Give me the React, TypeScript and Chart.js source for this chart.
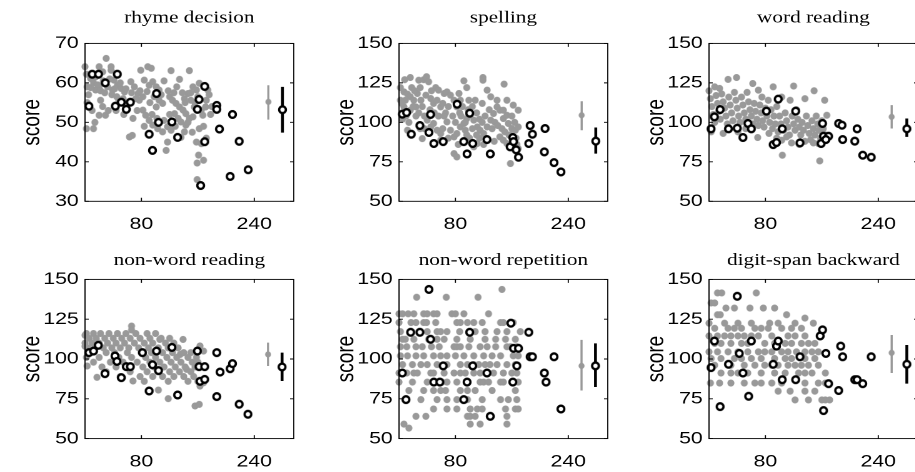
import React, { useEffect, useRef } from "react";
import { Chart, registerables } from "chart.js";

Chart.register(...registerables);

// ---------------- data ----------------
const xTicks = [80, 240];
const rhymeTicks = [30, 40, 50, 60, 70];
const scoreTicks = [50, 75, 100, 125, 150];

type P = [number, number];

const rhymeControls: P[] = [
  [0,64.1],[2,62.2],[8,61.1],[3,59],[12,48.4],[2,48.4],[20,64.1],[25,62.8],[30,66.2],[37,64.1],[20,59.2],[15,58.2],[22,55.6],[20,51.8],[29,51.8],[37,63.2],[41,60.7],[46,59.4],[51,58.6],[56,57.7],[39,58.2],[48,55.6],[58,53.9],[65,60.3],[70,59],[75,57.3],[77,55.6],[63,46.3],[67,46.7],[79,63.2],[89,64.1],[94,63.7],[84,60.7],[91,59.4],[96,60.3],[101,59],[105,58.2],[82,53.1],[86,51.8],[91,50.5],[96,49.3],[101,53.9],[105,55.6],[110,54.8],[103,48.4],[115,42.9],[117,45],[122,63.1],[134,60.9],[120,56.5],[124,55.6],[129,54.8],[134,53.9],[139,53.1],[143,52.2],[127,52.2],[132,51],[136,50.1],[117,48.9],[122,48],[110,47.6],[148,63.1],[153,59],[146,57.3],[150,55.6],[155,53.9],[141,56],[143,49.3],[148,51],[153,51.4],[158,58.2],[162,59.9],[165,53.1],[167,51.8],[171,53.9],[162,48.4],[165,44.6],[161,41.7],[159,39.7],[168,40.4],[159,35.5],[136,46.2],[141,47.6],[172,55.6],[174,58.2],
  [5,57],[8,58.8],[12,60],[15,61.5],[18,59.5],[22,58],[26,60.5],[28,57.5],[32,59],[35,61],[38,57],[42,58.5],[45,56.5],[50,60],[54,56],[58,58.5],[62,55],[66,57.5],[72,56],[78,58],[82,56.5],[88,57.8],[92,55],[98,56.5],[108,57],[112,60.5],[118,58],[126,57.5],[130,59],[138,57.5],[142,55],[150,57.5],[156,55],[160,56.5],[3,55],[10,53],[14,50],[25,54],[33,53],[44,53],[55,52],[68,51],[74,53],[84,49],[95,52],[102,51],[112,50.5],[120,52],[128,49],[146,50],[152,47.5],[158,45],[168,49],[172,46],[178,52],[180,54],[176,57]
];
const rhymePatients: P[] = [
  [5.5,54.1],[10.2,62.2],[19.2,62.2],[28.7,60],[43,54.1],[45.8,62.2],[51.5,55.1],[58.6,53.3],[64.3,55.1],[90.9,47],[95.7,42.9],[101.4,57.3],[104.2,50],[123.2,50.1],[131.3,46.2],[159.3,53.3],[161.7,55.8],[169.7,59.1],[169.7,45.1],[164,34],[186.8,54.3],[186.8,53.3],[190.6,48.3],[205.8,36.3],[209.1,52],[218.6,45.2],[231.4,38]
];
// [x, mean, low, high]
const rhymeControlSummary = [260, 55.2, 50.7, 59.4];
const rhymePatientSummary = [280, 53.2, 47.4, 59];

const spellingControls: P[] = [
  [16,128.4],[28,126.7],[35,127],[39,128.9],[42,125.7],[52,122],[56,120.4],[119,128.4],[119,126.7],[149,124.2],[92,126.3],[96,122],
  [2,122],[7,119.3],[12,117.9],[16,116.2],[2,114],[9,114],[21,114],[26,118.3],[7,109.8],[16,107.7],[24,109.8],[31,114],[38,117.2],[45,115.1],[49,112],[54,114],[59,109.8],[64,118.3],[68,119.3],[73,117.2],[78,114],[82,109.8],
  [40,101.4],[45,97.1],[49,99.3],[54,95],[59,92.9],[33,89.7],[68,100.3],[73,95],[78,90.8],[82,92.9],[87,97.1],[92,99.3],[96,102.4],[101,104.5],[106,101.4],[111,97.1],[115,95],[120,92.9],[125,97.1],[130,101.4],[134,105.6],[139,109.8],[143,107.7],[148,102.4],[153,104.5],[155,99.3],[160,96.1],[165,95],[169,97.1],[169,107.7],[162,110.9],[143,90.8],[148,88.7],[153,86.6],[158,73.9],[169,83.4],[78,80.2],[82,78.1],[106,84.5],[111,86.6],[59,88.7],
  [125,120.4],[130,116.2],[139,114],[118,112],[108,114],[99,114],[87,114],[85,118.3],[153,114],[148,107.7],
  [4,112],[10,104],[14,100],[20,110],[24,104],[28,106],[33,110],[36,104],[44,108],[50,106],[56,104],[62,112],[66,106],[70,110],[76,104],[80,100],[86,106],[90,110],[94,95],[98,108],[104,110],[110,106],[114,102],[118,100],[122,104],[128,108],[132,96],[136,100],[140,98],[146,96],[150,94],[156,92],[160,104],[164,100],[166,90],[167,86],[5,102],[12,95],[30,96],[36,96],[62,96],[70,90],[100,90],[114,90],[120,86],[135,88],[158,92],[64,104],[18,122],[22,120],[30,122],[8,127],[46,120],[88,104],[94,100],[104,96],[84,86],[96,92],[110,92]
];
const spellingPatients: P[] = [
  [4.7,105.2],[10.8,106.2],[17.4,92.5],[29.6,98],[42.4,93.6],[44.7,105],[49.4,86.6],[62.6,87.8],[82.4,111.5],[91.8,87.8],[96.5,80],[100.2,105.8],[104.5,86.6],[124.7,89.1],[129.4,80],[157.6,84.5],[161.4,90.4],[162.4,87.8],[166.1,82.6],[169.4,77.9],[185.9,98],[189.2,92.5],[184,86.6],[207.1,96.1],[206.1,81.3],[219.8,74.5],[229.6,68.6]
];
const spellingControlSummary = [259, 104.5, 95, 113.4];
const spellingPatientSummary = [279, 88.1, 80.2, 96.7];

const wordControls: P[] = [
  [0,120],[8,122.5],[15,121.5],[27,127.2],[39,128.4],[62,124.6],[70,120.4],[91,122.5],[120,123],[136,115],[149,120],[164,114],[167,104.5],[75,116],[84,114],[103,116],[115,114],
  [2,115],[4,110],[6,105],[8,100],[10,117],[12,112],[14,107],[16,102],[18,118],[20,113],[22,109],[24,104],[26,99],[28,116],[30,111],[32,106],[34,101],[36,119],[38,114],[40,109],[42,104],[44,100],[46,116],[48,111],[50,106],[52,102],[54,119],[56,113],[58,108],[60,104],[62,99],[64,112],[66,107],[68,102],[70,98],[72,111],[74,106],[76,101],[78,97],[80,109],[82,104],[86,100],[88,108],[90,96],[92,104],[94,99],[96,110],[98,94],[100,104],[102,99],[106,95],[108,106],[110,101],[112,97],[114,92],[118,104],[120,99],[122,95],[124,108],[126,102],[128,97],[130,92],[132,100],[134,95],[138,104],[140,98],[142,93],[144,89],[146,101],[148,96],[150,92],[152,104],[154,99],[156,95],[158,90],[160,101],[162,96],[165,92],
  [104,79.2],[157,75.6],[69,90.4],[117,87],[160,94],[155,86.6],[103,88.7],[110,90.8],[3,94],[20,93],[41,94],[52,96],[85,93],[96,90],[136,88],[128,86],[148,87]
];
const wordPatients: P[] = [
  [2.9,95.9],[7.6,103.5],[15.7,108.1],[27.6,95.9],[40,96.3],[48.1,90.4],[55.2,99.3],[60,95.9],[81.4,107.1],[91,85.9],[95.7,87.2],[98.1,114.7],[103.8,95.9],[122.9,107.1],[129,87],[161,99.3],[159,86.6],[162.4,91.2],[169.5,91.2],[165.7,89.1],[183.8,99.3],[188.6,98.2],[189.5,89.1],[206.7,88.1],[210,95.9],[218,79.2],[230,77.9]
];
const wordControlSummary = [259, 103.5, 96.1, 110.9];
const wordPatientSummary = [280.5, 95.9, 90.8, 102.4];

const nonwordControls: P[] = [
  [66,120.7],[66,118.2],[0,114.9],[0,108],[3,95.6],[17,88.5],[68,86.2],[104,80.5],[118,75.1],[156,70.5],[162,71.5],[163,83],[168,85.1],[135,102.9],[144,93.5],[106,112.3],[139,112.3],[163,108.2],[168,105],
  [2,116],[12,116],[22,116],[34,116],[46,116],[58,116],[72,116],[88,116],[100,116],
  [6,113],[16,113],[28,113],[40,113],[52,113],[64,113],[78,113],[92,113],[108,113],[120,113],
  [0,110],[10,110],[20,110],[32,110],[44,110],[56,110],[70,110],[84,110],[96,110],[114,110],[126,110],
  [4,107],[14,107],[26,107],[38,107],[50,107],[62,107],[76,107],[90,107],[104,107],[118,107],[132,107],
  [8,104],[30,104],[42,104],[60,104],[80,104],[94,104],[110,104],[124,104],[140,104],[150,104],
  [2,101],[20,101],[48,101],[66,101],[86,101],[100,101],[116,101],[130,101],[146,101],[158,101],
  [12,98],[36,98],[54,98],[74,98],[92,98],[106,98],[122,98],[136,98],[152,98],[160,98],
  [24,95],[44,95],[58,95],[82,95],[98,95],[112,95],[128,95],[142,95],[156,95],
  [30,92],[64,92],[88,92],[104,92],[120,92],[134,92],[150,92],
  [50,89],[78,89],[96,89],[110,89],[126,89],[140,89],[154,89],
  [84,86],[118,86],[146,86],[160,86]
];
const nonwordPatients: P[] = [
  [5.5,104],[12.1,105],[18.8,108.6],[28.3,90.8],[42.5,101.9],[45.3,98.5],[51.5,88.3],[58.6,95.2],[64.3,95.2],[81.4,104],[90.9,79.9],[95.7,96.4],[101.4,105],[104.2,92.7],[123.2,107.3],[131.3,77.4],[159.3,105],[161.7,95.2],[163.1,86],[169.7,95.2],[169.7,87.2],[186.8,104],[186.8,76.4],[191.5,91.8],[205.8,93.9],[209.1,97.1],[218.6,71.6],[231,65.3]
];
const nonwordControlSummary = [259.5, 102.9, 95.6, 110.3];
const nonwordPatientSummary = [279.4, 95, 86.2, 104];

const repetitionControls: P[] = [
  [25,138.8],[67,138.8],[112,138.8],[146,143.7],
  [0,128.4],[5,128.4],[13,128.4],[21,128.4],[35,128.4],[40,128.4],[49,128.4],[54,128.4],[75,128.4],[80,128.4],[92,128.4],[127,128.4],
  [0,122.9],[17,122.9],[24,122.9],[35,122.9],[39,122.9],[52,122.9],[82,122.9],[87,122.9],[97,122.9],[106,122.9],[118,122.9],[144,122.9],[148,122.9],[162,122.9],
  [2,117.2],[40,117.2],[54,117.2],[59,117.2],[68,117.2],[86,117.2],[108,117.2],[122,117.2],[139,117.2],[153,117.2],[172,117.2],
  [5,112.4],[9,112.4],[21,112.4],[42,112.4],[54,112.4],[64,112.4],[82,112.4],[101,112.4],[122,112.4],[137,112.4],[151,112.4],[165,112.4],
  [2,107.7],[11,107.7],[24,107.7],[33,107.7],[46,107.7],[57,107.7],[78,107.7],[82,107.7],[87,107.7],[99,107.7],[115,107.7],[125,107.7],[137,107.7],[153,107.7],[158,107.7],[167,107.7],
  [2,102],[12,102],[24,102],[35,102],[49,102],[59,102],[68,102],[80,102],[92,102],[106,102],[120,102],[132,102],[144,102],[162,102],[169,102],
  [5,96.5],[19,96.5],[31,96.5],[40,96.5],[54,96.5],[68,96.5],[87,96.5],[97,96.5],[106,96.5],[113,96.5],[122,96.5],[129,96.5],[139,96.5],[153,96.5],[165,96.5],
  [0,91.2],[11,91.2],[21,91.2],[26,91.2],[45,91.2],[49,91.2],[64,91.2],[78,91.2],[87,91.2],[94,91.2],[106,91.2],[115,91.2],[134,91.2],[148,91.2],[160,91.2],[167,91.2],
  [0,85.5],[19,85.5],[40,85.5],[49,85.5],[61,85.5],[68,85.5],[82,85.5],[97,85.5],[115,85.5],[120,85.5],[127,85.5],[144,85.5],[148,85.5],[169,85.5],
  [14,80.2],[35,80.2],[49,80.2],[59,80.2],[66,80.2],[87,80.2],[97,80.2],[108,80.2],[132,80.2],[165,80.2],
  [31,74.5],[54,74.5],[68,74.5],[82,74.5],[97,74.5],[118,74.5],[144,74.5],[155,74.5],[167,74.5],
  [49,68.6],[68,68.6],[82,68.6],[101,68.6],[111,68.6],[118,68.6],[151,68.6],[165,68.6],[169,68.6],
  [24,64],[38,64],[97,64],[101,64],[108,64],[153,64],
  [7,59.1],[101,59.1],[115,59.1],[153,59.1],[14,56.6]
];
const repetitionPatients: P[] = [
  [4.7,91.2],[9.9,74.5],[16.5,116.8],[29.6,116.8],[42.4,143.7],[44.7,112.4],[49.4,85.5],[57.9,85.5],[62.6,95.7],[91.8,74.5],[96.5,85.5],[100.2,116.8],[104.5,95.7],[124.7,91.2],[129.4,64],[158.6,122.5],[161.4,85.5],[162.4,106.7],[169.4,106.7],[167.1,95.7],[184,116.8],[185.9,101.4],[189.2,101.4],[206.1,91.2],[208.5,85.5],[219.8,101.4],[229.6,68.6]
];
const repetitionControlSummary = [258.8, 95.7, 80.2, 112];
const repetitionPatientSummary = [278.6, 95.7, 82.4, 109.8];

const digitControls: P[] = [
  [12,141.5],[18,141.5],[67,141.5],[3,135.2],[8,135.2],
  [24,132],[36,132],[58,132],[77,132],[93,132],[12,127.8],[16,127.8],[110,127.8],[136,125.7],
  [0,122.5],[22,122.5],[41,122.5],[60,122.5],[86,122.5],[98,122.5],[122,122.5],[148,122.5],
  [8,119.3],[27,119.3],[36,119.3],[46,119.3],[65,119.3],[74,119.3],[84,119.3],[103,119.3],[117,119.3],[131,119.3],
  [0,114.5],[12,114.5],[22,114.5],[31,114.5],[41,114.5],[50,114.5],[60,114.5],[70,114.5],[89,114.5],[112,114.5],[122,114.5],[136,114.5],
  [8,109.8],[17,109.8],[31,109.8],[46,109.8],[55,109.8],[79,109.8],[93,109.8],[108,109.8],[117,109.8],[131,109.8],[141,109.8],[150,109.8],
  [0,104.5],[12,104.5],[27,104.5],[41,104.5],[55,104.5],[70,104.5],[79,104.5],[89,104.5],[103,104.5],[112,104.5],[124,104.5],[136,104.5],[146,104.5],[155,104.5],
  [3,100.3],[17,100.3],[36,100.3],[46,100.3],[60,100.3],[74,100.3],[93,100.3],[108,100.3],[117,100.3],[136,100.3],[150,100.3],
  [8,96.1],[31,96.1],[50,96.1],[65,96.1],[79,96.1],[89,96.1],[98,96.1],[112,96.1],[122,96.1],[131,96.1],[141,96.1],[155,96.1],
  [17,91.2],[31,91.2],[41,91.2],[55,91.2],[74,91.2],[93,91.2],[108,91.2],[127,91.2],[136,91.2],[146,91.2],[165,91.2],
  [2,84.9],[15,84.9],[31,84.9],[50,84.9],[65,84.9],[74,84.9],[89,84.9],[103,84.9],[136,84.9],[155,84.9],[165,84.9],
  [98,79.8],[115,79.8],[136,79.8],[150,79.8],
  [122,74.3],[141,74.3],[160,74.3],[165,74.3],[171,74.3]
];
const digitPatients: P[] = [
  [2.9,94.6],[7.6,111.3],[15.7,70.1],[27.6,96.7],[40,139.4],[42.9,103.5],[48.1,91.2],[56.2,76.6],[60,111.3],[91,96.7],[95.7,108.1],[98.1,111.3],[103.8,87],[122.9,87],[129,101.4],[157.6,114.5],[161,118.3],[162.4,67.6],[165.7,103.5],[169.5,84.5],[183.8,80.2],[186.7,108.1],[189.5,101.4],[206.7,87],[210,87],[218,84.5],[230,101.4]
];
const digitControlSummary = [259, 103.9, 91.2, 115.1];
const digitPatientSummary = [280.5, 96.7, 84.5, 108.8];

// ---------------- layout / style ----------------
const STRETCH = 1.25;
const CW = 240;
const CH = 236;
const Y_AXIS_W = 68;
const PLOT_W = 167.6;
const X_MIN = 0;
const X_MAX = 296;
const GRAY = "#999999";
const SANS = '"Liberation Sans", Arial, sans-serif';
const SERIF = '"Liberation Serif", "Times New Roman", serif';

type PanelDef = {
  title: string;
  yMin: number;
  yMax: number;
  yTicks: number[];
  controls: P[];
  patients: P[];
  cSum: number[];
  pSum: number[];
  left: number;
  top: number;
  row: number;
};

const panels: PanelDef[] = [
  { title: "rhyme decision", yMin: 30, yMax: 70, yTicks: rhymeTicks, controls: rhymeControls, patients: rhymePatients, cSum: rhymeControlSummary, pSum: rhymePatientSummary, left: 0, top: 0, row: 0 },
  { title: "spelling", yMin: 50, yMax: 150, yTicks: scoreTicks, controls: spellingControls, patients: spellingPatients, cSum: spellingControlSummary, pSum: spellingPatientSummary, left: 313.5, top: 0, row: 0 },
  { title: "word reading", yMin: 50, yMax: 150, yTicks: scoreTicks, controls: wordControls, patients: wordPatients, cSum: wordControlSummary, pSum: wordPatientSummary, left: 624, top: 0, row: 0 },
  { title: "non-word reading", yMin: 50, yMax: 150, yTicks: scoreTicks, controls: nonwordControls, patients: nonwordPatients, cSum: nonwordControlSummary, pSum: nonwordPatientSummary, left: 0, top: 236, row: 1 },
  { title: "non-word repetition", yMin: 50, yMax: 150, yTicks: scoreTicks, controls: repetitionControls, patients: repetitionPatients, cSum: repetitionControlSummary, pSum: repetitionPatientSummary, left: 313.5, top: 236, row: 1 },
  { title: "digit-span backward", yMin: 50, yMax: 150, yTicks: scoreTicks, controls: digitControls, patients: digitPatients, cSum: digitControlSummary, pSum: digitPatientSummary, left: 624, top: 236, row: 1 },
];

// Marker images: drawn round in page space (compensating the horizontal stretch).
const MARK_BOX = 12;
const MARK_RES = 4;
function makeMarker(r: number, fill: string | null, stroke: string | null, lw: number): Promise<HTMLImageElement> {
  const c = document.createElement("canvas");
  c.width = MARK_BOX * MARK_RES;
  c.height = MARK_BOX * MARK_RES;
  const g = c.getContext("2d")!;
  g.scale(MARK_RES, MARK_RES);
  g.translate(MARK_BOX / 2, MARK_BOX / 2);
  g.scale(1 / STRETCH, 1);
  g.beginPath();
  g.arc(0, 0, r, 0, Math.PI * 2);
  if (fill) {
    g.fillStyle = fill;
    g.fill();
  }
  if (stroke) {
    g.lineWidth = lw;
    g.strokeStyle = stroke;
    g.stroke();
  }
  const img = new Image();
  img.width = MARK_BOX;
  img.height = MARK_BOX;
  return new Promise((resolve) => {
    img.onload = () => resolve(img);
    img.onerror = () => resolve(img);
    img.src = c.toDataURL();
  });
}

let markersPromise: Promise<HTMLImageElement[]> | null = null;
function getMarkers() {
  if (!markersPromise) {
    markersPromise = Promise.all([
      makeMarker(3.5, GRAY, null, 0), // control dot
      makeMarker(3.35, "#ffffff", "#000000", 2.3), // patient ring
      makeMarker(3.0, GRAY, null, 0), // control mean
    ]);
  }
  return markersPromise;
}

const framePlugin = {
  id: "frame",
  afterDraw(chart: any) {
    const { ctx, chartArea: a, scales } = chart;
    ctx.save();
    ctx.strokeStyle = "#000";
    ctx.lineWidth = 0.9;
    ctx.strokeRect(a.left, a.top, a.right - a.left, a.bottom - a.top);
    ctx.beginPath();
    for (const t of scales.x.ticks) {
      const px = scales.x.getPixelForValue(t.value);
      ctx.moveTo(px, a.bottom);
      ctx.lineTo(px, a.bottom - 3.5);
      ctx.moveTo(px, a.top);
      ctx.lineTo(px, a.top + 3.5);
    }
    for (const t of scales.y.ticks) {
      const py = scales.y.getPixelForValue(t.value);
      ctx.moveTo(a.left, py);
      ctx.lineTo(a.left + 3, py);
      ctx.moveTo(a.right, py);
      ctx.lineTo(a.right - 3, py);
    }
    ctx.stroke();
    ctx.restore();
  },
};

function Panel({ p }: { p: PanelDef }) {
  const ref = useRef<HTMLCanvasElement>(null);
  useEffect(() => {
    let chart: Chart | null = null;
    let cancelled = false;
    getMarkers().then(([dot, ring, meanDot]) => {
      if (cancelled || !ref.current) return;
      const toXY = (arr: P[]) => arr.map(([x, y]) => ({ x, y }));
      const titlePad = p.row === 0 ? { top: 8, bottom: 15 } : { top: 14.5, bottom: 8.5 };
      const xAxisH = p.row === 0 ? 34.7 : 33.4;
      chart = new Chart(ref.current, {
        type: "scatter",
        data: {
          datasets: [
            {
              type: "scatter",
              label: "patients",
              data: toXY(p.patients),
              pointStyle: ring,
              order: 1,
              clip: false,
            },
            {
              type: "scatter",
              label: "controls",
              data: toXY(p.controls),
              pointStyle: dot,
              order: 6,
              clip: false,
            },
            {
              type: "line",
              label: "controls sd",
              data: [{ x: p.cSum[0], y: p.cSum[2] }, { x: p.cSum[0], y: p.cSum[3] }],
              borderColor: GRAY,
              borderWidth: 1.7,
              pointRadius: 0,
              fill: false,
              order: 5,
            },
            {
              type: "scatter",
              label: "controls mean",
              data: [{ x: p.cSum[0], y: p.cSum[1] }],
              pointStyle: meanDot,
              order: 4,
            },
            {
              type: "line",
              label: "patients sd",
              data: [{ x: p.pSum[0], y: p.pSum[2] }, { x: p.pSum[0], y: p.pSum[3] }],
              borderColor: "#000",
              borderWidth: 2.3,
              pointRadius: 0,
              fill: false,
              order: 3,
            },
            {
              type: "scatter",
              label: "patients mean",
              data: [{ x: p.pSum[0], y: p.pSum[1] }],
              pointStyle: ring,
              order: 0,
            },
          ] as any,
        },
        options: {
          animation: false,
          responsive: false,
          devicePixelRatio: 2,
          layout: { padding: { left: 0, top: 0, bottom: 0, right: CW - Y_AXIS_W - PLOT_W } },
          plugins: {
            legend: { display: false },
            tooltip: { enabled: false },
            title: {
              display: true,
              text: p.title,
              fullSize: false,
              color: "#000",
              font: { family: SERIF, size: 17, weight: "normal", lineHeight: 1.2 },
              padding: titlePad,
            },
          },
          scales: {
            x: {
              type: "linear",
              min: X_MIN,
              max: X_MAX,
              grid: { display: false, drawTicks: false },
              border: { display: false },
              afterBuildTicks: (s: any) => {
                s.ticks = xTicks.map((v) => ({ value: v }));
              },
              afterFit: (s: any) => {
                s.height = xAxisH;
              },
              ticks: {
                color: "#000",
                font: { family: SANS, size: 17, lineHeight: 1.2 },
                padding: 13,
                maxRotation: 0,
                autoSkip: false,
              },
            },
            y: {
              type: "linear",
              min: p.yMin,
              max: p.yMax,
              grid: { display: false, drawTicks: false },
              border: { display: false },
              afterBuildTicks: (s: any) => {
                s.ticks = p.yTicks.map((v) => ({ value: v }));
              },
              afterFit: (s: any) => {
                s.width = Y_AXIS_W;
              },
              ticks: {
                color: "#000",
                font: { family: SANS, size: 17, lineHeight: 1.2 },
                padding: 5,
                autoSkip: false,
              },
              title: {
                display: true,
                text: "score",
                color: "#000",
                font: { family: SANS, size: 19, lineHeight: 1.2 },
                padding: { top: 15, bottom: 0 },
              },
            },
          },
        } as any,
        plugins: [framePlugin],
      });
    });
    return () => {
      cancelled = true;
      if (chart) chart.destroy();
    };
  }, [p]);

  return (
    <div
      style={{
        position: "absolute",
        left: p.left,
        top: p.top,
        width: CW,
        height: CH,
        transform: `scaleX(${STRETCH})`,
        transformOrigin: "0 0",
      }}
    >
      <canvas ref={ref} width={CW} height={CH} style={{ display: "block", width: CW, height: CH }} />
    </div>
  );
}

export default function App() {
  return (
    <div
      style={{
        position: "fixed",
        left: 0,
        top: 0,
        width: 915,
        height: 472,
        overflow: "hidden",
        background: "#fff",
      }}
    >
      {panels.map((p) => (
        <Panel key={p.title} p={p} />
      ))}
    </div>
  );
}
